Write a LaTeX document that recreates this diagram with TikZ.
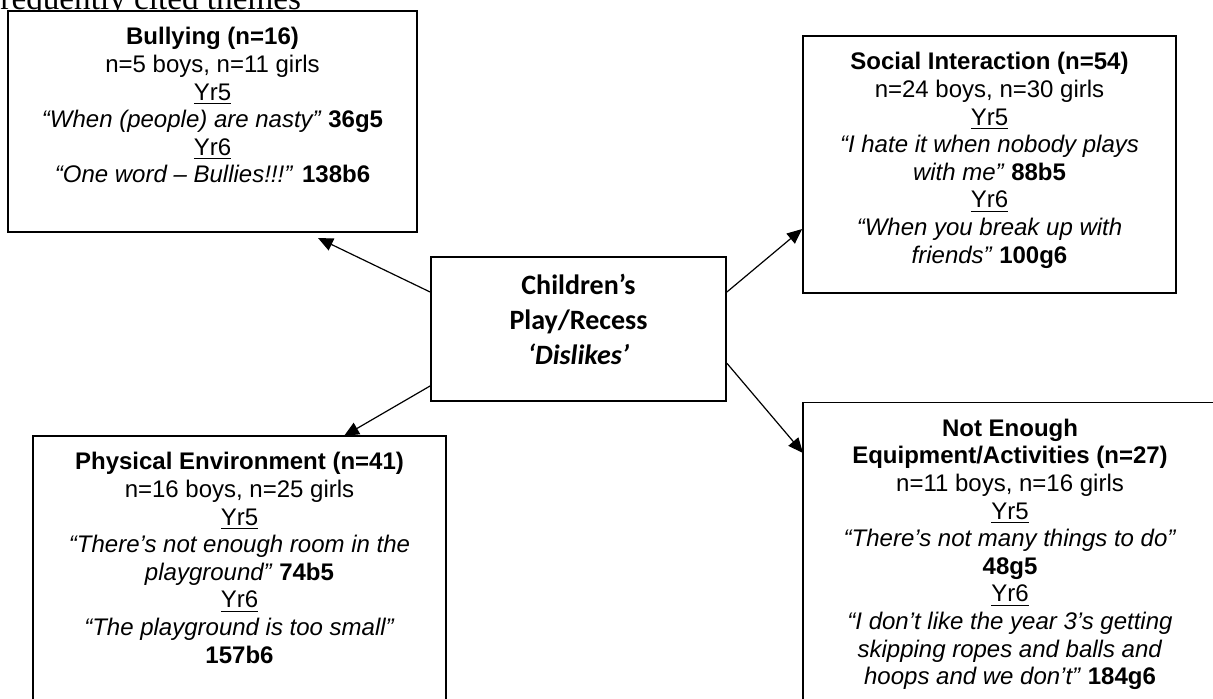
\documentclass[tikz,border=0pt]{standalone}
\usepackage{fontspec}
\setmainfont{Liberation Sans}
\newfontfamily\calibrifont{Carlito}
\newfontfamily\timesfont{Liberation Serif}
\usepackage{tikz}
\usetikzlibrary{positioning, arrows.meta}

\begin{document}
\begin{tikzpicture}[x=0.5pt, y=-0.5pt,
  theme/.style={draw, fill=white, line width=0.9pt, inner sep=0pt},
  themetext/.style={align=center, inner sep=0pt, font=\fontsize{12}{13.8}\selectfont},
  link/.style={-{Triangle[length=7.5pt, width=6.5pt]}, line width=0.6pt}]
\useasboundingbox (0,0) rectangle (1213,699);
\node[anchor=base west, inner sep=0pt, font=\timesfont\fontsize{16.6}{19}\selectfont] (pagetext) at (-11,9.5) {frequently cited themes};
\node[theme, minimum width=204.5pt, minimum height=110.5pt] (bully) at (212.5,121.5) {};
\node[theme, minimum width=186.5pt, minimum height=128.5pt] (social) at (989.5,164.5) {};
\node[theme, minimum width=147.5pt, minimum height=72pt] (centre) at (578.5,329) {};
\node[theme, minimum width=206.5pt, minimum height=142pt] (physical) at (239.5,578) {};
\node[theme, minimum width=207pt, minimum height=159pt] (equip) at (1010,561.5) {};
\node[themetext, below=8.5pt of bully.north] (bullytext) {\textbf{Bullying (n=16)}\\
  n=5 boys, n=11 girls\\ \underline{Yr5}\\
  \textit{“When (people) are nasty”} \textbf{36g5}\\ \underline{Yr6}\\
  \textit{“One word – Bullies!!!”} \textbf{138b6}};
\node[themetext, below=8.5pt of social.north] (socialtext) {\textbf{Social Interaction (n=54)}\\
  n=24 boys, n=30 girls\\ \underline{Yr5}\\
  \textit{“I hate it when nobody plays}\\ \textit{with me”} \textbf{88b5}\\ \underline{Yr6}\\
  \textit{“When you break up with}\\ \textit{friends”} \textbf{100g6}};
\node[themetext, below=9pt of centre.north, font=\calibrifont\fontsize{14}{17.5}\selectfont\bfseries] (centretext)
  {Children’s\\ Play/Recess\\ \textit{‘Dislikes’}};
\node[themetext, below=8.5pt of physical.north] (physicaltext) {\textbf{Physical Environment (n=41)}\\
  n=16 boys, n=25 girls\\ \underline{Yr5}\\
  \textit{“There’s not enough room in the}\\ \textit{playground”} \textbf{74b5}\\ \underline{Yr6}\\
  \textit{“The playground is too small”}\\ \textbf{157b6}};
\node[themetext, below=8.5pt of equip.north] (equiptext) {\textbf{Not Enough}\\
  \textbf{Equipment/Activities (n=27)}\\ n=11 boys, n=16 girls\\ \underline{Yr5}\\
  \textit{“There’s not many things to do”}\\ \textbf{48g5}\\ \underline{Yr6}\\
  \textit{“I don’t like the year 3’s getting}\\ \textit{skipping ropes and balls and}\\
  \textit{hoops and we don’t”} \textbf{184g6}};
\coordinate (bullytip) at (318,238);
\coordinate (physicaltip) at (344,436);
\coordinate (equiptip) at (803,453);
\draw[link] (centre.166) -- (bullytip);
\draw[link] (centre.14) -- (social.199);
\draw[link] (centre.201.5) -- (physicaltip);
\draw[link] (centre.-13.3) -- (equiptip);
\end{tikzpicture}
\end{document}
